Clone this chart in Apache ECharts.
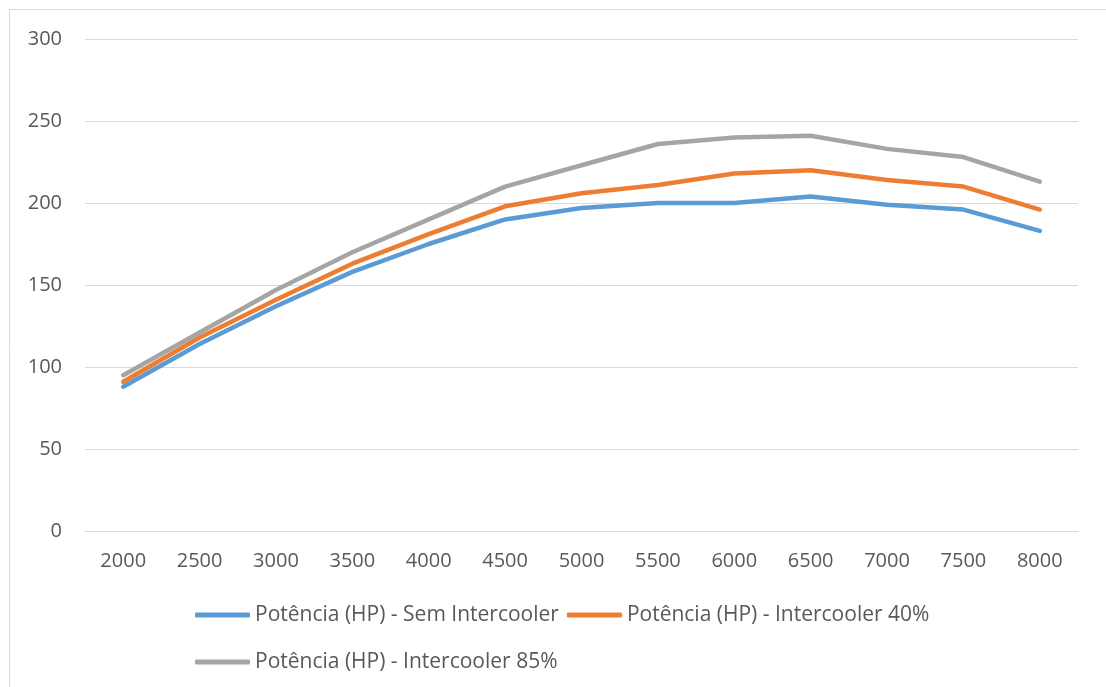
<!DOCTYPE html>
<html>
<head>
<meta charset="utf-8">
<script src="https://cdn.jsdelivr.net/npm/echarts@6/dist/echarts.min.js"></script>
<style>
html,body{margin:0;padding:0;background:#fff;}
#c{width:1106px;height:687px;}
</style>
</head>
<body>
<div id="c"></div>
<script>
const categories = ['2000','2500','3000','3500','4000','4500','5000','5500','6000','6500','7000','7500','8000'];
const semIntercooler = [88, 114, 137, 158, 175, 190, 197, 200, 200, 204, 199, 196, 183];
const intercooler40 = [91, 118, 141, 163, 181, 198, 206, 211, 218, 220, 214, 210, 196];
const intercooler85 = [95, 121, 147, 170, 190, 210, 223, 236, 240, 241, 233, 228, 213];
const seriesNames = ['Potência (HP) - Sem Intercooler', 'Potência (HP) - Intercooler 40%', 'Potência (HP) - Intercooler 85%'];
const yTicks = [0, 50, 100, 150, 200, 250, 300];

const colors = ['#5B9BD5', '#ED7D31', '#A5A5A5'];
const font = 'Open Sans';
const textColor = '#595959';

const chart = echarts.init(document.getElementById('c'));
function mk(name, data, color) {
  return {
    name: name, type: 'line', data: data, symbol: 'none', smooth: false,
    lineStyle: { color: color, width: 4.5, cap: 'round', join: 'round' },
    itemStyle: { color: color }
  };
}
const legendCommon = {
  left: 195, padding: 0, itemWidth: 55, itemHeight: 5, itemGap: 8,
  icon: 'roundRect',
  textStyle: { fontFamily: font, fontSize: 21, color: textColor, lineHeight: 24 }
};
chart.setOption({
  animation: false,
  backgroundColor: '#fff',
  color: colors,
  graphic: [{
    type: 'rect', shape: { x: 9.5, y: 9.5, width: 1200, height: 800 },
    style: { fill: 'none', stroke: '#d9d9d9', lineWidth: 1 }, silent: true
  }],
  grid: { left: 85, right: 28, top: 39, bottom: 156 },
  legend: [
    Object.assign({ top: 603, data: [seriesNames[0], seriesNames[1]] }, legendCommon),
    Object.assign({ top: 650, data: [seriesNames[2]] }, legendCommon)
  ],
  xAxis: {
    type: 'category', data: categories, boundaryGap: true,
    axisLine: { show: true, lineStyle: { color: '#d9d9d9', width: 1 } },
    axisTick: { show: false },
    axisLabel: { fontFamily: font, fontSize: 20, color: textColor, margin: 20 }
  },
  yAxis: {
    type: 'value', min: yTicks[0], max: yTicks[yTicks.length - 1], interval: 50,
    axisLine: { show: false }, axisTick: { show: false },
    splitLine: { lineStyle: { color: '#d9d9d9', width: 1 } },
    axisLabel: { fontFamily: font, fontSize: 20, color: textColor, margin: 23 }
  },
  series: [
    mk(seriesNames[0], semIntercooler, colors[0]),
    mk(seriesNames[1], intercooler40, colors[1]),
    mk(seriesNames[2], intercooler85, colors[2])
  ]
});
</script>
</body>
</html>
